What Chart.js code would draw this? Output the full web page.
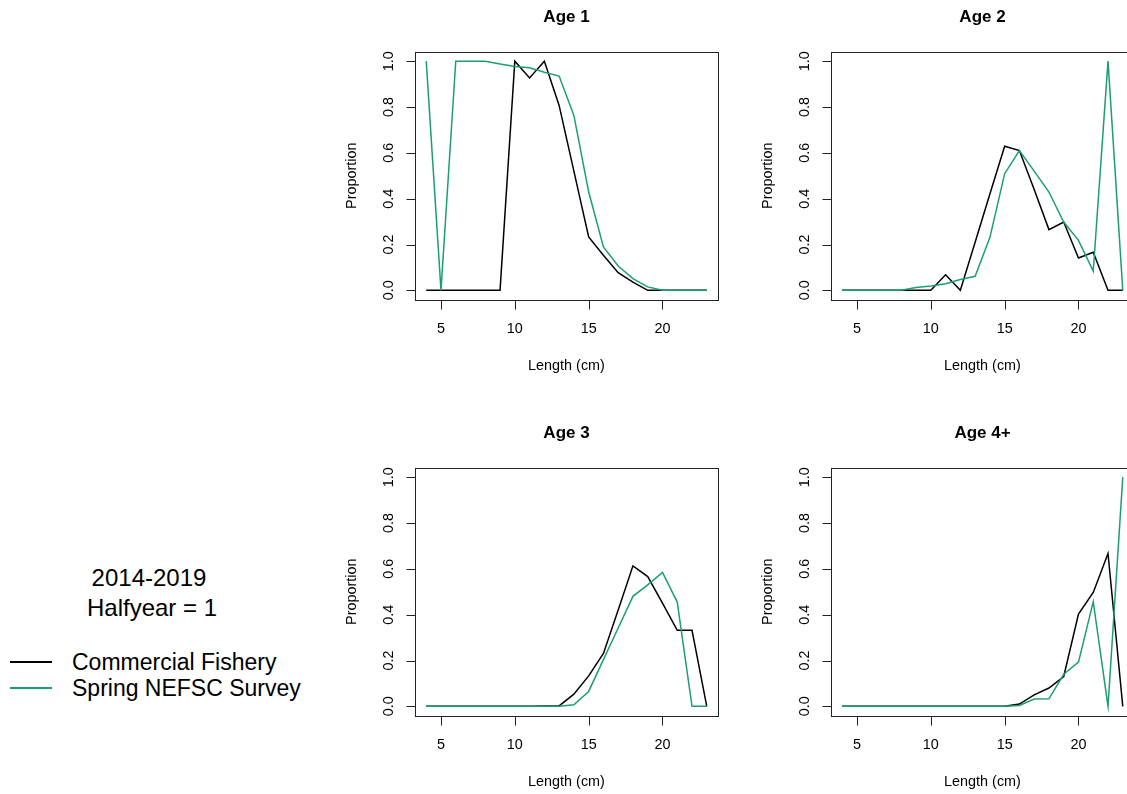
<!DOCTYPE html>
<html>
<head>
<meta charset="utf-8">
<script src="https://cdn.jsdelivr.net/npm/chart.js@4"></script>
<style>
body { margin: 0; width: 1127px; height: 794px; overflow: hidden; background: #fff; position: relative; font-family: "Liberation Sans", Arial, sans-serif; }
canvas { position: absolute; }
.txt { position: absolute; white-space: nowrap; color: #000; }
.key { position: absolute; height: 2px; width: 42px; left: 10px; }
</style>
</head>
<body>
<canvas id="age1" width="400" height="400" style="left:330px; top:0px"></canvas>
<canvas id="age2" width="400" height="400" style="left:746px; top:0px"></canvas>
<canvas id="age3" width="400" height="400" style="left:330px; top:416px"></canvas>
<canvas id="age4" width="400" height="400" style="left:746px; top:416px"></canvas>

<div class="txt" style="left:0; width:298px; text-align:center; top:566px; font-size:24px; line-height:24px">2014-2019</div>
<div class="txt" style="left:0; width:304px; text-align:center; top:596px; font-size:24px; line-height:24px">Halfyear = 1</div>
<div class="key" style="top:661px; background:#000"></div>
<div class="key" style="top:687px; background:#1b9e77"></div>
<div class="txt" style="left:72px; top:651px; font-size:23px; line-height:23px">Commercial Fishery</div>
<div class="txt" style="left:72px; top:677px; font-size:23px; line-height:23px">Spring NEFSC Survey</div>

<script>
const lengths = [4, 5, 6, 7, 8, 9, 10, 11, 12, 13, 14, 15, 16, 17, 18, 19, 20, 21, 22, 23];

const age1Fishery = [0, 0, 0, 0, 0, 0, 1.0, 0.927, 1.0, 0.807, 0.52, 0.233, 0.153, 0.077, 0.036, 0, 0, 0, 0, 0];
const age1Survey  = [1.0, 0, 1.0, 1.0, 1.0, 0.988, 0.977, 0.971, 0.952, 0.935, 0.763, 0.43, 0.189, 0.106, 0.051, 0.015, 0, 0, 0, 0];

const age2Fishery = [0, 0, 0, 0, 0, 0, 0, 0.068, 0, 0.21, 0.42, 0.629, 0.61, 0.44, 0.265, 0.298, 0.141, 0.166, 0, 0];
const age2Survey  = [0, 0, 0, 0, 0, 0.012, 0.019, 0.029, 0.047, 0.061, 0.23, 0.509, 0.61, 0.52, 0.429, 0.298, 0.218, 0.084, 1.0, 0];

const age3Fishery = [0, 0, 0, 0, 0, 0, 0, 0, 0.002, 0.002, 0.053, 0.133, 0.231, 0.42, 0.613, 0.566, 0.45, 0.332, 0.332, 0];
const age3Survey  = [0, 0, 0, 0, 0, 0, 0, 0, 0, 0, 0.007, 0.065, 0.204, 0.342, 0.48, 0.53, 0.584, 0.455, 0, 0];

const age4Fishery = [0, 0, 0, 0, 0, 0, 0, 0, 0, 0, 0, 0, 0.01, 0.05, 0.08, 0.13, 0.403, 0.497, 0.667, 0];
const age4Survey  = [0, 0, 0, 0, 0, 0, 0, 0, 0, 0, 0, 0, 0.004, 0.032, 0.033, 0.14, 0.193, 0.457, 0, 1.0];

const xTicks = [5, 10, 15, 20];
const xTickLabels = ["5", "10", "15", "20"];
const yTicks = [0, 0.2, 0.4, 0.6, 0.8, 1.0];
const yTickLabels = ["0.0", "0.2", "0.4", "0.6", "0.8", "1.0"];

const font = '"Liberation Sans", Arial, sans-serif';

// R style box, ticks and labels drawn on the chart's own scales
const rAxes = {
    id: "rAxes",
    afterDraw(chart, args, opts) {
        const ctx = chart.ctx;
        const a = chart.chartArea;
        const x = chart.scales.x, y = chart.scales.y;
        const l = Math.round(a.left) + 0.5, t = Math.round(a.top) + 0.5;
        const r = Math.round(a.right) + 0.5, b = Math.round(a.bottom) + 0.5;
        ctx.save();
        ctx.strokeStyle = "#222";
        ctx.lineWidth = 1;
        ctx.strokeRect(l, t, r - l, b - t);
        ctx.beginPath();
        xTicks.forEach(v => {
            let px = Math.round(x.getPixelForValue(v)) + 0.5;
            ctx.moveTo(px, b);
            ctx.lineTo(px, b + 9);
        });
        yTicks.forEach(v => {
            let py = Math.round(y.getPixelForValue(v)) + 0.5;
            ctx.moveTo(l, py);
            ctx.lineTo(l - 9, py);
        });
        ctx.stroke();

        ctx.fillStyle = "#000";
        ctx.textAlign = "center";
        ctx.textBaseline = "alphabetic";
        ctx.font = "14.4px " + font;
        xTicks.forEach((v, i) => {
            ctx.fillText(xTickLabels[i], x.getPixelForValue(v), a.bottom + 33.4);
        });
        ctx.fillText("Length (cm)", (a.left + a.right) / 2, a.bottom + 70);
        yTicks.forEach((v, i) => {
            ctx.save();
            ctx.translate(a.left - 21.7, y.getPixelForValue(v));
            ctx.rotate(-Math.PI / 2);
            ctx.fillText(yTickLabels[i], 0, 0);
            ctx.restore();
        });
        ctx.save();
        ctx.translate(a.left - 59, (a.top + a.bottom) / 2);
        ctx.rotate(-Math.PI / 2);
        ctx.fillText("Proportion", 0, 0);
        ctx.restore();

        ctx.font = "bold 17px " + font;
        ctx.fillText(opts.title, (a.left + a.right) / 2, a.top - 30);
        ctx.restore();
    }
};

function makePanel(id, title, fishery, survey) {
    return new Chart(document.getElementById(id), {
        type: "line",
        data: {
            datasets: [
                {
                    label: "Commercial Fishery",
                    data: lengths.map((v, i) => ({x: v, y: fishery[i]})),
                    borderColor: "#000",
                    borderWidth: 1.5,
                    order: 2
                },
                {
                    label: "Spring NEFSC Survey",
                    data: lengths.map((v, i) => ({x: v, y: survey[i]})),
                    borderColor: "#1b9e77",
                    borderWidth: 1.5,
                    order: 1
                }
            ]
        },
        options: {
            responsive: false,
            animation: false,
            devicePixelRatio: 1,
            layout: {padding: {left: 85, top: 52, right: 12, bottom: 100.5}},
            elements: {point: {radius: 0}, line: {tension: 0, fill: false}},
            scales: {
                x: {type: "linear", display: false, min: 3.24, max: 23.76},
                y: {type: "linear", display: false, min: -0.04, max: 1.04}
            },
            plugins: {
                legend: {display: false},
                tooltip: {enabled: false},
                rAxes: {title: title}
            }
        },
        plugins: [rAxes]
    });
}

makePanel("age1", "Age 1", age1Fishery, age1Survey);
makePanel("age2", "Age 2", age2Fishery, age2Survey);
makePanel("age3", "Age 3", age3Fishery, age3Survey);
makePanel("age4", "Age 4+", age4Fishery, age4Survey);
</script>
</body>
</html>
